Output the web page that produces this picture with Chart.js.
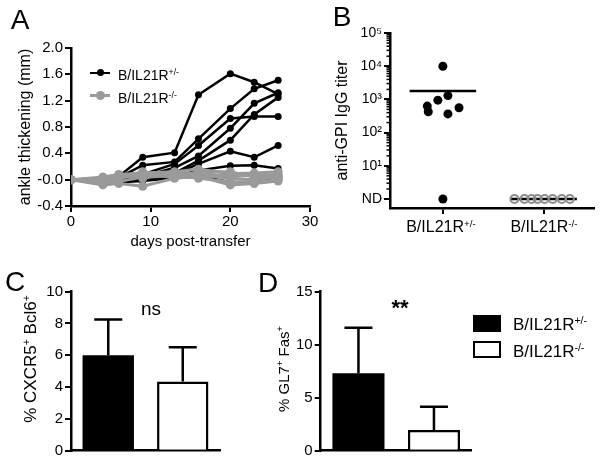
<!DOCTYPE html>
<html>
<head>
<meta charset="utf-8">
<script src="https://cdn.jsdelivr.net/npm/chart.js@4.4.1/dist/chart.umd.min.js"></script>
<style>
  body { margin: 0; background: #fff; }
  #wrap { position: relative; width: 600px; height: 465px; overflow: hidden; font-family: "Liberation Sans", Arial, sans-serif; color: #000; }
  canvas { position: absolute; }
  .t { position: absolute; white-space: nowrap; line-height: 1; }
  .c { transform: translate(-50%, -50%); }
  .l { transform: translate(0, -50%); }
  .r90 { transform: translate(-50%, -50%) rotate(-90deg); }
  sup { font-size: 0.62em; vertical-align: 0.55em; line-height: 0; }
  .box { position: absolute; box-sizing: border-box; }
</style>
</head>
<body>
<div id="wrap">
  <canvas id="chartA" width="320" height="260" style="left:0;top:0;width:320px;height:260px"></canvas>
  <canvas id="chartB" width="300" height="260" style="left:300px;top:0;width:300px;height:260px"></canvas>
  <canvas id="chartC" width="300" height="205" style="left:0;top:260px;width:300px;height:205px"></canvas>
  <canvas id="chartD" width="350" height="205" style="left:250px;top:260px;width:350px;height:205px"></canvas>

  <!-- panel letters -->
  <div class="t c" style="left:20px;top:20px;font-size:28px">A</div>
  <div class="t c" style="left:342px;top:17px;font-size:28px">B</div>
  <div class="t c" style="left:15px;top:282px;font-size:28px">C</div>
  <div class="t c" style="left:268px;top:283px;font-size:28px">D</div>

  <!-- legend A -->
  <div class="box" style="left:90px;top:71.5px;width:20px;height:2.5px;background:#000"></div>
  <div class="box" style="left:96.5px;top:69.2px;width:7px;height:7px;border-radius:50%;background:#000"></div>
  <div class="t l" style="left:118px;top:75px;font-size:14px">B/IL21R<sup>+/-</sup></div>
  <div class="box" style="left:90px;top:93.5px;width:20px;height:3px;background:#9a9a9a"></div>
  <div class="box" style="left:95.5px;top:90.5px;width:9px;height:9px;border-radius:50%;background:#9a9a9a"></div>
  <div class="t l" style="left:118px;top:98px;font-size:14px">B/IL21R<sup>-/-</sup></div>

  <!-- panel B category labels -->
  <div class="t c" style="left:441px;top:227px;font-size:16px">B/IL21R<sup>+/-</sup></div>
  <div class="t c" style="left:544px;top:227px;font-size:16px">B/IL21R<sup>-/-</sup></div>

  <!-- panel C / D titles and marks -->
  <div class="t r90" style="left:30px;top:359px;font-size:17px">% CXCR5<sup>+</sup> Bcl6<sup>+</sup></div>
  <div class="t r90" style="left:283px;top:369px;font-size:15px">% GL7<sup>+</sup> Fas<sup>+</sup></div>
  <div class="t c" style="left:151px;top:308px;font-size:19px">ns</div>
  <div class="t c" style="left:400px;top:308px;font-size:22px;font-weight:bold">**</div>

  <!-- legend D -->
  <div class="box" style="left:473px;top:315px;width:28px;height:17px;background:#000"></div>
  <div class="t l" style="left:513px;top:324px;font-size:17px">B/IL21R<sup>+/-</sup></div>
  <div class="box" style="left:473px;top:341px;width:28px;height:17px;border:2px solid #000;background:#fff"></div>
  <div class="t l" style="left:513px;top:351px;font-size:17px">B/IL21R<sup>-/-</sup></div>
</div>

<script>
/* =========================
   DATA
========================= */

// A: ankle thickening (mm) per mouse
const days = [0, 4, 6, 9, 13, 16, 20, 23, 26];

const hetMice = [
    [0, 0.02, 0.05, 0.34, 0.41, 1.29, 1.61, 1.48, 1.30],
    [0, 0.00, 0.03, 0.22, 0.27, 0.62, 1.08, 1.38, 1.51],
    [0, -0.02, 0.02, 0.08, 0.24, 0.52, 0.93, 0.96, 0.96],
    [0, 0.00, 0.00, 0.05, 0.18, 0.36, 0.78, 1.16, 1.32],
    [0, 0.02, 0.03, 0.04, 0.10, 0.29, 0.60, 0.99, 1.25],
    [0, -0.03, 0.00, 0.06, 0.08, 0.24, 0.43, 0.34, 0.52],
    [0, -0.04, -0.02, 0.02, 0.05, 0.14, 0.21, 0.22, 0.17],
    [0, -0.05, -0.04, -0.02, 0.03, 0.06, -0.04, -0.03, 0.00]
];

const koMice = [
    [0, -0.08, -0.06, -0.10, 0.02, 0.05, -0.08, -0.06, -0.02],
    [0, 0.04, 0.08, 0.10, 0.12, 0.16, 0.09, 0.10, 0.12],
    [0, -0.02, 0.05, 0.06, 0.08, 0.10, 0.05, 0.07, 0.08],
    [0, -0.04, 0.02, 0.08, 0.04, 0.12, 0.12, 0.04, 0.02],
    [0, 0.02, 0.07, 0.02, 0.10, 0.07, 0.02, 0.00, 0.05],
    [0, -0.06, -0.03, 0.04, 0.06, 0.02, -0.03, -0.04, 0.00],
    [0, 0.00, 0.04, 0.12, 0.03, 0.04, 0.07, 0.08, 0.04]
];

// B: anti-GPI IgG titer (ND plotted at 1)
const titerHet = [10000, 1300, 950, 630, 560, 425, 365, 1];
const titerHetJitter = [0, 0.05, -0.05, -0.155, 0.16, -0.145, 0.05, 0];
const titerKo = [1, 1, 1, 1, 1, 1, 1, 1];
const titerKoJitter = [-0.29, -0.19, -0.12, -0.06, 0.01, 0.09, 0.18, 0.26];
const titerMeans = [1800, 1];
const titerTickValues = [1, 10, 100, 1000, 10000, 100000];
const titerTickLabels = ["ND", "10¹", "10²", "10³", "10⁴", "10⁵"];

// C / D: bar means and SD
const groups = ["B/IL21R+/-", "B/IL21R-/-"];
const tfhMean = [6.0, 4.35];
const tfhSd = [2.25, 2.15];
const gcMean = [7.3, 1.95];
const gcSd = [4.3, 2.2];

/* =========================
   COMMON STYLE
========================= */

const FONT = '"Liberation Sans", Arial, sans-serif';
const GRAY = "#9a9a9a";

function axis(extra) {
    return Object.assign({
        border: { display: true, color: "#000", width: 2.5 },
        grid: {
            display: true, drawOnChartArea: false, drawTicks: true, tickLength: 6,
            color: "#000", tickColor: "#000", lineWidth: 2, tickWidth: 2
        },
        ticks: { color: "#000", font: { family: FONT, size: 15 }, padding: 2 }
    }, extra);
}

const base = {
    responsive: false,
    animation: false,
    devicePixelRatio: 1,
    plugins: { legend: { display: false }, tooltip: { enabled: false } }
};

/* =========================
   PLUGINS
========================= */

const errorBars = {
    id: "errorBars",
    afterDatasetsDraw(chart, args, opts) {
        const ctx = chart.ctx;
        const y = chart.scales.y;
        const values = chart.data.datasets[0].data;
        ctx.save();
        ctx.strokeStyle = "#000";
        ctx.lineWidth = 2.5;
        chart.getDatasetMeta(0).data.forEach((bar, i) => {
            const top = y.getPixelForValue(values[i] + opts.sd[i]);
            ctx.beginPath();
            ctx.moveTo(bar.x, bar.y);
            ctx.lineTo(bar.x, top);
            ctx.moveTo(bar.x - opts.cap / 2, top);
            ctx.lineTo(bar.x + opts.cap / 2, top);
            ctx.stroke();
        });
        ctx.restore();
    }
};

const minorLogTicks = {
    id: "minorLogTicks",
    afterDraw(chart) {
        const ctx = chart.ctx;
        const y = chart.scales.y;
        const x0 = chart.chartArea.left;
        ctx.save();
        ctx.strokeStyle = "#000";
        ctx.lineWidth = 1.5;
        for (let d = 1; d < 100000; d *= 10) {
            for (let m = 2; m <= 9; m++) {
                const py = y.getPixelForValue(d * m);
                ctx.beginPath();
                ctx.moveTo(x0 - 3.5, py);
                ctx.lineTo(x0, py);
                ctx.stroke();
            }
        }
        ctx.restore();
    }
};

/* =========================
   PANEL A
========================= */

const lineSets = [];
hetMice.forEach(vals => {
    lineSets.push({
        data: days.map((d, i) => ({ x: d, y: vals[i] })),
        borderColor: "#000", backgroundColor: "#000",
        borderWidth: 2.5, pointRadius: 3.5, pointBorderWidth: 0, order: 2
    });
});
koMice.forEach(vals => {
    lineSets.push({
        data: days.map((d, i) => ({ x: d, y: vals[i] })),
        borderColor: GRAY, backgroundColor: GRAY,
        borderWidth: 3, pointRadius: 4.5, pointBorderWidth: 0, order: 1
    });
});

new Chart(document.getElementById("chartA"), {
    type: "line",
    data: { datasets: lineSets },
    options: Object.assign({}, base, {
        layout: { padding: { left: 12, top: 48, right: 10, bottom: 5 } },
        scales: {
            x: axis({
                type: "linear", min: 0, max: 30,
                ticks: { color: "#000", font: { family: FONT, size: 15 }, padding: 1, stepSize: 10 },
                title: { display: true, text: "days post-transfer", color: "#000", font: { family: FONT, size: 15 } },
                afterFit: s => { s.height = 49; }
            }),
            y: axis({
                min: -0.4, max: 2.0,
                ticks: { color: "#000", font: { family: FONT, size: 15 }, padding: 2, stepSize: 0.4, callback: v => v.toFixed(1) },
                title: { display: true, text: "ankle thickening (mm)", color: "#000", font: { family: FONT, size: 16 } },
                afterFit: s => { s.width = 59; }
            })
        }
    })
});

/* =========================
   PANEL B
========================= */

new Chart(document.getElementById("chartB"), {
    type: "scatter",
    data: {
        datasets: [
            {
                data: [{ x: 1 - 0.33, y: titerMeans[0] }, { x: 1 + 0.33, y: titerMeans[0] }],
                showLine: true, borderColor: "#000", borderWidth: 2.5, pointRadius: 0, order: 3
            },
            {
                data: [{ x: 2 - 0.33, y: titerMeans[1] }, { x: 2 + 0.33, y: titerMeans[1] }],
                showLine: true, borderColor: "#000", borderWidth: 2.5, pointRadius: 0, order: 3
            },
            {
                data: titerHet.map((v, i) => ({ x: 1 + titerHetJitter[i], y: v })),
                backgroundColor: "#000", borderWidth: 0, pointRadius: 4.5, order: 1
            },
            {
                data: titerKo.map((v, i) => ({ x: 2 + titerKoJitter[i], y: v })),
                backgroundColor: "rgba(255,255,255,0)", borderColor: "#8c8c8c", borderWidth: 2, pointRadius: 4, order: 1
            }
        ]
    },
    options: Object.assign({}, base, {
        layout: { padding: { left: 29, top: 33, right: 5, bottom: 22 } },
        scales: {
            x: axis({
                type: "linear", min: 0.475, max: 2.5,
                ticks: { display: false },
                afterBuildTicks: s => { s.ticks = [{ value: 1 }, { value: 2 }]; },
                afterFit: s => { s.height = 30; }
            }),
            y: axis({
                type: "logarithmic", min: 0.536, max: 100000,
                ticks: { color: "#000", font: { family: FONT, size: 14 }, padding: 2, callback: (v, i) => titerTickLabels[i] },
                afterBuildTicks: s => { s.ticks = titerTickValues.map(v => ({ value: v })); },
                title: { display: true, text: "anti-GPI IgG titer", color: "#000", font: { family: FONT, size: 16 } },
                afterFit: s => { s.width = 61; }
            })
        }
    }),
    plugins: [minorLogTicks]
});

/* =========================
   PANELS C & D
========================= */

function barChart(id, means, sd, yMax, yStep, pad, yWidth) {
    new Chart(document.getElementById(id), {
        type: "bar",
        data: {
            labels: groups,
            datasets: [{
                data: means,
                backgroundColor: ["#000", "#fff"],
                borderColor: "#000",
                borderWidth: [0, 2.5],
                barPercentage: 0.69,
                categoryPercentage: 1
            }]
        },
        options: Object.assign({}, base, {
            layout: { padding: pad },
            plugins: {
                legend: { display: false },
                tooltip: { enabled: false },
                errorBars: { sd: sd, cap: 28 }
            },
            scales: {
                x: {
                    ticks: { display: false },
                    grid: { display: false },
                    border: { display: true, color: "#000", width: 2.5 },
                    afterFit: s => { s.height = 2; }
                },
                y: axis({
                    min: 0, max: yMax,
                    ticks: { color: "#000", font: { family: FONT, size: 15 }, padding: 2, stepSize: yStep },
                    afterFit: s => { s.width = yWidth; }
                })
            }
        }),
        plugins: [errorBars]
    });
}

barChart("chartC", tfhMean, tfhSd, 10, 2, { left: 40, top: 31.7, right: 80, bottom: 12.3 }, 31);
barChart("chartD", gcMean, gcSd, 15, 5, { left: 40, top: 31.7, right: 128.3, bottom: 12.3 }, 30.7);
</script>
</body>
</html>
